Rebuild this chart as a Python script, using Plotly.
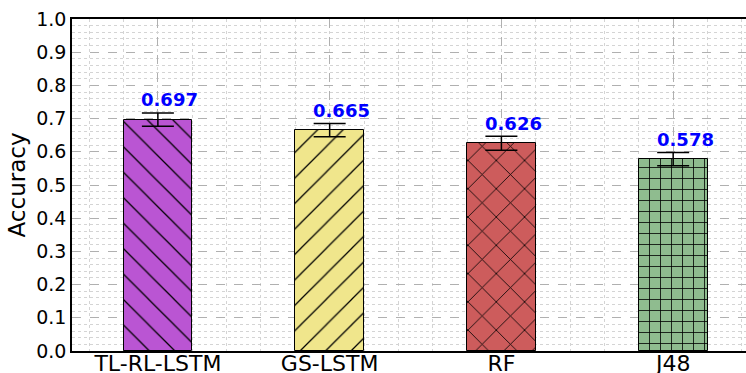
import plotly.graph_objects as go

categories = ["TL-RL-LSTM", "GS-LSTM", "RF", "J48"]
accuracy = [0.697, 0.665, 0.626, 0.578]
errors = [0.02, 0.02, 0.021, 0.02]
colors = ["#BA55D3", "#F0E68C", "#CD5C5C", "#8FBC8F"]
patterns = ["\\", "/", "x", "+"]
pattern_sizes = [18, 18, 20, 11]
pattern_solidity = [0.07, 0.07, 0.08, 0.14]

xs = list(range(len(categories)))
FONT = "DejaVu Sans"

fig = go.Figure()
for i, (x, v) in enumerate(zip(xs, accuracy)):
    fig.add_trace(go.Bar(
        x=[x], y=[v], width=0.4,
        marker=dict(
            color=colors[i],
            line=dict(color="black", width=1),
            pattern=dict(shape=patterns[i], size=pattern_sizes[i],
                         solidity=pattern_solidity[i],
                         fgcolor="black", bgcolor=colors[i],
                         fgopacity=1, fillmode="replace"),
        ),
        error_y=dict(type="data", array=[errors[i]], visible=True, color="black",
                     thickness=1.5, width=16),
        showlegend=False,
    ))
    fig.add_annotation(x=x + 0.07, y=v + 0.04, text=f"{v:.3f}", showarrow=False,
                       xanchor="center", yanchor="bottom", yshift=-6,
                       font=dict(family=FONT, size=18, color="blue", weight="bold"))

fig.update_layout(
    width=746, height=373,
    margin=dict(l=72, r=0, t=19, b=22, autoexpand=False),
    paper_bgcolor="white", plot_bgcolor="white",
    font=dict(family=FONT, color="black"),
    barmode="overlay", bargap=0,
)
fig.update_xaxes(
    range=[-0.5, 3.424], tickmode="array", tickvals=xs, ticktext=categories,
    tickfont=dict(size=22, family=FONT, color="black"),
    automargin=False, ticklen=0, ticklabelstandoff=-8,
    showline=True, linecolor="black", linewidth=1.5, mirror=True,
    showgrid=True, gridcolor="#b0b0b0", griddash="dash", gridwidth=1,
    ticks="", zeroline=False,
    minor=dict(tickmode="linear", tick0=0, dtick=0.2, showgrid=True,
               gridcolor="#d4d4d4", griddash="dot", gridwidth=1),
)
fig.update_yaxes(
    range=[0, 1], tickmode="linear", tick0=0, dtick=0.1, tickformat=".1f",
    tickfont=dict(size=19, family=FONT, color="black"),
    automargin=False, ticklen=0,
    title=dict(text="Accuracy", font=dict(size=23, family=FONT, color="black"), standoff=4),
    showline=True, linecolor="black", linewidth=1.5, mirror=False,
    showgrid=True, gridcolor="#b0b0b0", griddash="dash", gridwidth=1,
    ticks="", zeroline=False,
    minor=dict(tickmode="linear", tick0=0, dtick=0.02, showgrid=True,
               gridcolor="#d4d4d4", griddash="dot", gridwidth=1),
)

fig.write_html("out.html")
